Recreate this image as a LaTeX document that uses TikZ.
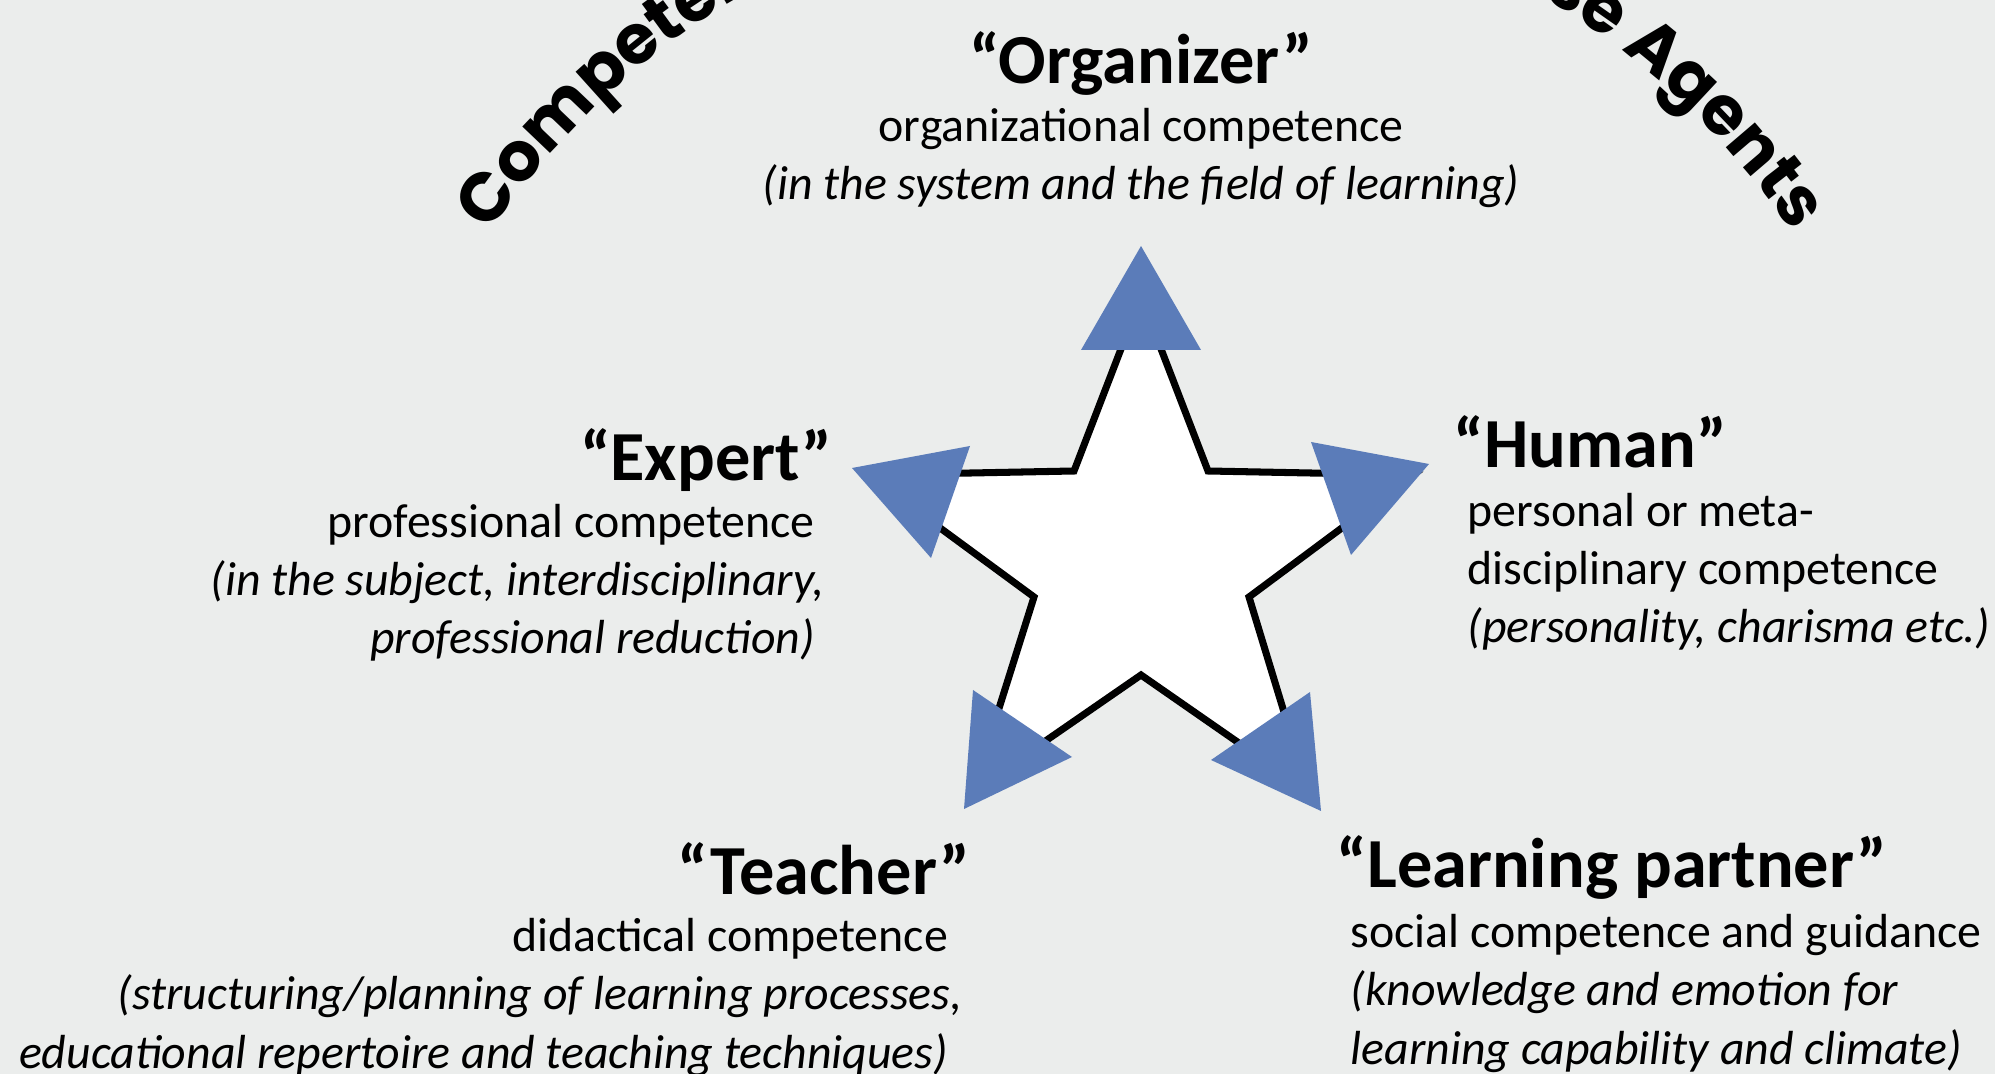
\documentclass[tikz,border=0pt]{standalone}
\usepackage{fontspec}
\setmainfont{Carlito}
\newfontfamily\arcfont{Poppins}
\usetikzlibrary{positioning, decorations.text}
\definecolor{bgGray}{RGB}{235,237,236}
\definecolor{tipBlue}{RGB}{91,124,185}
\tikzstyle{role} = [font=\fontsize{20}{24}\selectfont\bfseries, inner sep=0pt]
\tikzstyle{detail} = [font=\fontsize{13.6}{16.5}\selectfont, inner sep=0pt]
\tikzstyle{tip} = [fill=tipBlue]
\tikzstyle{starline} = [draw=black, line width=2pt, fill=white, line join=miter]

\begin{document}
\begin{tikzpicture}[x=0.01cm, y=-0.01cm]
\fill[bgGray] (0,0) rectangle (1995,1074);
\useasboundingbox (0,0) rectangle (1995,1074);
\clip (0,0) rectangle (1995,1074);

% heading on the arc
\coordinate (arcC) at (1141,672);
\path[decorate, decoration={text along path, text={|\arcfont\fontsize{19.5}{24}\selectfont\bfseries|Competen}}]
  ([shift={(146:7.85cm)}]arcC) arc[start angle=146, end angle=90, radius=7.85cm];
\path[decorate, decoration={text along path, text align=right, text={|\arcfont\fontsize{19.5}{24}\selectfont\bfseries|se Agents}}]
  ([shift={(90:7.85cm)}]arcC) arc[start angle=90, end angle=34, radius=7.85cm];

% star
\draw[starline] (1141,297) -- (1208,471) -- (1413,475) -- (1249,597) -- (1308,791) -- (1141,675)
  -- (973,791) -- (1034,597) -- (868,475) -- (1074,471) -- cycle;

% tips
\fill[tip] (1141,246) -- (1081,350) -- (1201,350) -- cycle;
\fill[tip] (852,468) -- (970,446) -- (931,558) -- cycle;
\fill[tip] (1429,464) -- (1311,442) -- (1351,555) -- cycle;
\fill[tip] (964,809) -- (973,690) -- (1072,757) -- cycle;
\fill[tip] (1321,811) -- (1310,692) -- (1211,760) -- cycle;

% roles (text nodes sit on the baseline of their last line)
\node (organizer) [role, anchor=base] at (1141,84) {“Organizer”};
\node (organizerTxt) [detail, align=center, anchor=base] at (1141,200) {organizational competence\\\textit{(in the system and the field of learning)}};
\node (expert) [role, anchor=base east] at (833,481) {“Expert”};
\node (expertTxt) [detail, align=right, anchor=base east] at (825,654) {professional competence\hspace*{.2em}\\\textit{(in the subject, interdisciplinary,}\\\textit{professional reduction)}\hspace*{.2em}};
\node (human) [role, anchor=base west] at (1453,468) {“Human”};
\node (humanTxt) [detail, align=left, anchor=base west] at (1467,643) {personal or meta-\\disciplinary competence\\\textit{(personality, charisma etc.)}};
\node (teacher) [role, anchor=base east] at (971,894) {“Teacher”};
\node (teacherTxt) [detail, align=right, anchor=base east] at (963,1068) {didactical competence\hspace*{.3em}\\\textit{(structuring/planning of learning processes,}\\\textit{educational repertoire and teaching techniques)}\hspace*{.3em}};
\node (partner) [role, anchor=base west] at (1336,887) {“Learning partner”};
\node (partnerTxt) [detail, align=left, anchor=base west] at (1350,1064) {social competence and guidance\\\textit{(knowledge and emotion for}\\\textit{learning capability and climate)}};
\end{tikzpicture}
\end{document}
